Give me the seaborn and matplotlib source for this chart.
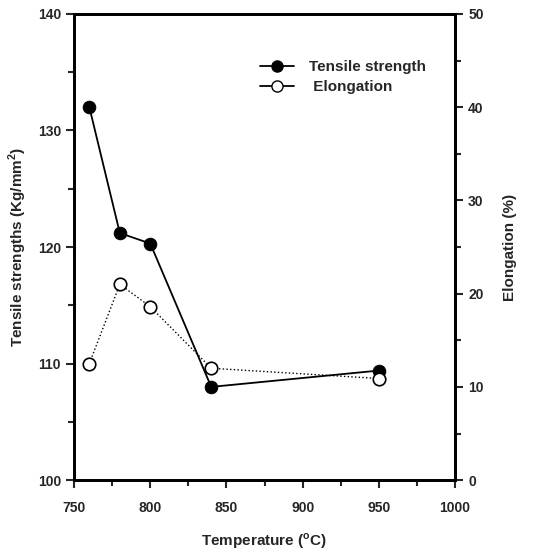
import pandas as pd
import numpy as np
import matplotlib.pyplot as plt
from matplotlib.lines import Line2D
from matplotlib.ticker import MultipleLocator
import seaborn as sns

# values
temperature = [760, 780, 800, 840, 950]
tensile = [132.0, 121.2, 120.3, 108.0, 109.4]
elongation = [12.5, 21.0, 18.6, 12.0, 10.9]

df = pd.DataFrame({'Temperature': temperature, 'Tensile': tensile, 'Elongation': elongation})

sns.set_style('white')
plt.rcParams['font.family'] = ['Liberation Sans', 'DejaVu Sans']
plt.rcParams['font.weight'] = 'bold'

fig = plt.figure(figsize=(5.41, 5.57), dpi=100)
ax = fig.add_axes([0.137, 0.138, 0.704, 0.837])
ax2 = ax.twinx()

sns.lineplot(data=df, x='Temperature', y='Tensile', ax=ax, color='black', lw=1.3,
             marker='o', markersize=9, markerfacecolor='black', markeredgecolor='black')
sns.lineplot(data=df, x='Temperature', y='Elongation', ax=ax2, color='black', lw=1.0,
             linestyle=':', marker='o', markersize=9, markerfacecolor='white',
             markeredgecolor='black', markeredgewidth=1.2)

ax.set_xlim(750, 1000)
ax.set_ylim(100, 140)
ax2.set_ylim(0, 50)
ax.xaxis.set_major_locator(MultipleLocator(50))
ax.xaxis.set_minor_locator(MultipleLocator(25))
ax.yaxis.set_major_locator(MultipleLocator(10))
ax.yaxis.set_minor_locator(MultipleLocator(5))
ax2.yaxis.set_major_locator(MultipleLocator(10))
ax2.yaxis.set_minor_locator(MultipleLocator(5))

for a in (ax, ax2):
    for s in a.spines.values():
        s.set_linewidth(2)
        s.set_color('black')
    a.tick_params(which='major', direction='out', length=6, width=1.5, labelsize=10)
    a.tick_params(which='minor', direction='out', length=4, width=1.5)
ax.tick_params(axis='both', which='both', bottom=True, left=True)
ax.tick_params(axis='x', pad=9)
ax2.tick_params(axis='y', which='both', right=True)

ax.set_xlabel('Temperature ($^{\\mathregular{o}}$C)', fontsize=11, fontweight='bold', labelpad=12)
ax.set_ylabel('Tensile strengths (Kg/mm$^{\\mathregular{2}}$)', fontsize=11, fontweight='bold', labelpad=6)
ax2.set_ylabel('Elongation (%)', fontsize=11, fontweight='bold', labelpad=14)

handles = [
    Line2D([], [], color='black', lw=1.3, marker='o', markersize=8, markerfacecolor='black'),
    Line2D([], [], color='black', lw=1.3, marker='o', markersize=8, markerfacecolor='white'),
]
ax.legend(handles, ['Tensile strength', ' Elongation'], loc='upper right',
          bbox_to_anchor=(0.96, 0.93), frameon=False, fontsize=11, handlelength=2.2,
          handletextpad=1.0, labelspacing=0.4)

fig.savefig('out.png', dpi=100)
